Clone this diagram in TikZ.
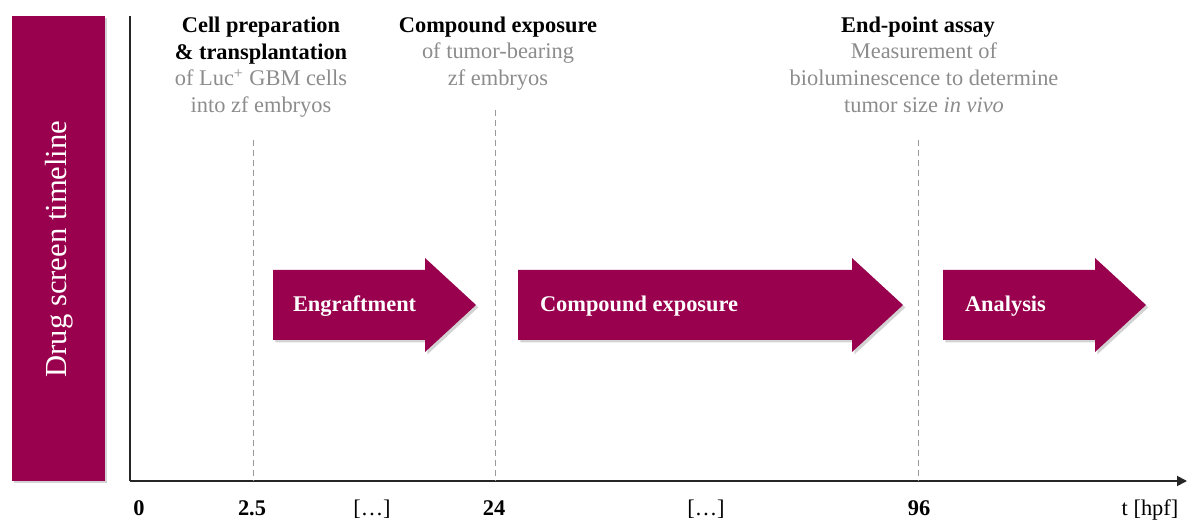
\documentclass[tikz,border=0pt]{standalone}
\usepackage{fontspec}
\setmainfont{Liberation Serif}
\usetikzlibrary{shadows,arrows.meta}
\definecolor{wine}{RGB}{153,0,77}
\definecolor{txtgray}{RGB}{140,140,140}
\begin{document}
\begin{tikzpicture}[x=0.5pt,y=-0.5pt,
  every node/.style={inner sep=0pt,outer sep=0pt},
  fnt/.style={font=\fontsize{11.2}{13.5}\selectfont},
  head/.style={fnt,align=center,text=black},
  sub/.style={fnt,align=center,text=txtgray},
  ticklab/.style={fnt,anchor=base},
  boldtick/.style={ticklab,font=\fontsize{11.2}{13.5}\selectfont\bfseries},
  guide/.style={dashed,draw=gray!80,line width=0.5pt,dash pattern=on 3pt off 2pt},
  phase/.style={fill=wine,drop shadow={opacity=0.35,shadow xshift=1.2pt,shadow yshift=-1.2pt}},
  phaselab/.style={fnt,font=\fontsize{11.2}{13.5}\selectfont\bfseries,text=white,anchor=west},
  axis/.style={line width=0.9pt,draw=black!85}
]
\useasboundingbox (0,0) rectangle (1188,522);

% left side box
\node[phase,minimum width=46.5pt,minimum height=232.5pt,anchor=north west] (sidebox) at (12,16) {};
\node[rotate=90,text=white,font=\fontsize{15.3}{18}\selectfont] (sidelab) at (59,249) {Drug screen timeline};

% axes
\coordinate (origin) at (130,481);
\coordinate (ytop) at (130,16);
\coordinate (xend) at (1187,481);
\draw[axis] (ytop) -- (origin);
\draw[axis,-{Triangle[length=5pt,width=5pt]}] (origin) -- (xend);

% guides
\coordinate (g1t) at (253,140); \coordinate (g1b) at (253,481);
\coordinate (g2t) at (495,110); \coordinate (g2b) at (495,481);
\coordinate (g3t) at (918,140); \coordinate (g3b) at (918,481);
\draw[guide] (g1t) -- (g1b);
\draw[guide] (g2t) -- (g2b);
\draw[guide] (g3t) -- (g3b);

% phase arrows
\fill[phase] (273,270) -- (425,270) -- (425,258) -- (476,305) -- (425,352) -- (425,340) -- (273,340) -- cycle;
\fill[phase] (518,270) -- (852,270) -- (852,258) -- (903,305) -- (852,352) -- (852,340) -- (518,340) -- cycle;
\fill[phase] (943,270) -- (1095,270) -- (1095,258) -- (1146,305) -- (1095,352) -- (1095,340) -- (943,340) -- cycle;
\node[phaselab] (p1) at (293,306) {Engraftment};
\node[phaselab] (p2) at (540,306) {Compound exposure};
\node[phaselab] (p3) at (965,306) {Analysis};

% headings (anchor=base sits on the last line's baseline)
\node[head,font=\fontsize{11.2}{13.5}\selectfont\bfseries,anchor=base] (h1) at (261,60) {Cell preparation\\\& transplantation};
\node[sub,anchor=base] (s1) at (261,113) {of Luc\textsuperscript{+} GBM cells\\into zf embryos};
\node[head,font=\fontsize{11.2}{13.5}\selectfont\bfseries,anchor=base] (h2) at (498,33) {Compound exposure};
\node[sub,anchor=base] (s2) at (498,86) {of tumor-bearing\\zf embryos};
\node[head,font=\fontsize{11.2}{13.5}\selectfont\bfseries,anchor=base] (h3) at (918,33) {End-point assay};
\node[sub,anchor=base] (s3) at (924,113) {Measurement of\\bioluminescence to determine\\tumor size \textit{in vivo}};

% tick labels
\node[boldtick] (t0) at (139,516) {0};
\node[boldtick] (t1) at (252,516) {2.5};
\node[ticklab] (d1) at (372,516) {[\dots]};
\node[boldtick] (t2) at (494,516) {24};
\node[ticklab] (d2) at (706,516) {[\dots]};
\node[boldtick] (t3) at (919,516) {96};
\node[ticklab] (tl) at (1150,516) {t [hpf]};
\end{tikzpicture}
\end{document}
